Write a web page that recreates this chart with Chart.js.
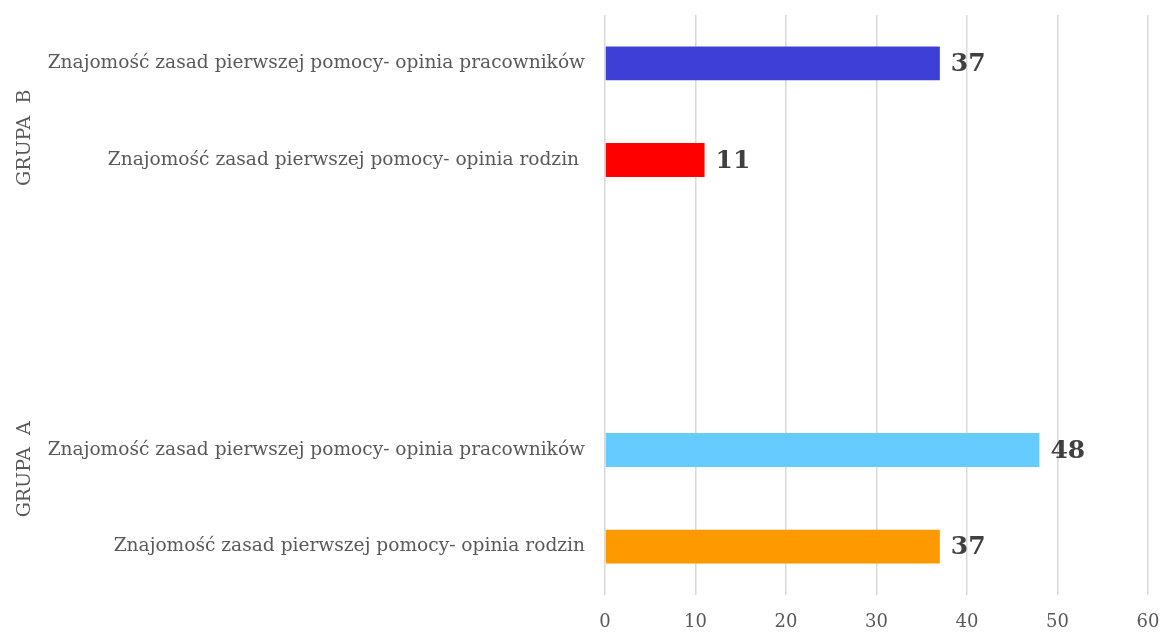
<!DOCTYPE html>
<html>
<head>
<meta charset="utf-8">
<script src="https://cdn.jsdelivr.net/npm/chart.js@4"></script>
<style>
html,body{margin:0;padding:0;background:#fff;}
#wrap{width:1160px;height:632px;position:relative;}
</style>
</head>
<body>
<div id="wrap"><canvas id="c"></canvas></div>
<script>
const categories = [
  'Znajomość zasad pierwszej pomocy- opinia pracowników',
  'Znajomość zasad pierwszej pomocy- opinia rodzin ',
  '',
  '',
  'Znajomość zasad pierwszej pomocy- opinia pracowników',
  'Znajomość zasad pierwszej pomocy- opinia rodzin'
];
const values = [37, 11, null, null, 48, 37];
const barColors = ['#3e3fd7', '#ff0000', '#ffffff', '#ffffff', '#66ccff', '#ff9900'];
const groupNames = ['GRUPA  B', 'GRUPA  A'];
const groupCenters = [0.77, 4.2]; // category index positions
const xTicks = [0, 10, 20, 30, 40, 50, 60];

const serif = '"DejaVu Serif", "Liberation Serif", serif';

const valueLabels = {
  id: 'valueLabels',
  afterDatasetsDraw(chart) {
    const ctx = chart.ctx;
    const meta = chart.getDatasetMeta(0);
    ctx.save();
    ctx.font = 'bold 25px ' + serif;
    ctx.fillStyle = '#404040';
    ctx.textAlign = 'left';
    ctx.textBaseline = 'middle';
    meta.data.forEach((bar, i) => {
      const v = values[i];
      if (v === null || v === undefined) return;
      ctx.fillText(String(v), bar.x + 11, bar.y + 1);
    });
    ctx.restore();
  }
};

const groupLabels = {
  id: 'groupLabels',
  afterDraw(chart) {
    const ctx = chart.ctx;
    const y = chart.scales.y;
    ctx.save();
    ctx.font = '19px ' + serif;
    ctx.fillStyle = '#595959';
    ctx.textAlign = 'center';
    ctx.textBaseline = 'middle';
    groupNames.forEach((g, i) => {
      const py = y.getPixelForValue(groupCenters[i]);
      ctx.save();
      ctx.translate(25, py);
      ctx.rotate(-Math.PI / 2);
      ctx.fillText(g, 0, 0);
      ctx.restore();
    });
    ctx.restore();
  }
};

new Chart(document.getElementById('c'), {
  type: 'bar',
  data: {
    labels: categories,
    datasets: [{
      data: values,
      backgroundColor: barColors,
      borderWidth: 0,
      barPercentage: 0.35,
      categoryPercentage: 1.0
    }]
  },
  options: {
    indexAxis: 'y',
    responsive: true,
    maintainAspectRatio: false,
    animation: false,
    layout: { padding: { top: 15, right: 12, bottom: 0, left: 40 } },
    plugins: {
      legend: { display: false },
      tooltip: { enabled: false }
    },
    scales: {
      x: {
        min: 0,
        max: 60,
        afterBuildTicks(scale) { scale.ticks = xTicks.map(v => ({ value: v })); },
        afterFit(scale) { scale.height = 37; scale.paddingLeft = 0; scale.paddingRight = 0; },
        grid: { color: '#d9d9d9', lineWidth: 1.5, drawTicks: false },
        border: { display: false },
        ticks: {
          color: '#595959',
          font: { family: serif, size: 18 },
          padding: 17
        }
      },
      y: {
        afterFit(scale) { scale.width = 565; scale.paddingTop = 0; scale.paddingBottom = 0; },
        grid: { display: false, drawTicks: false },
        border: { display: false },
        ticks: {
          color: '#595959',
          font: { family: serif, size: 18.6 },
          padding: 20,
          autoSkip: false
        }
      }
    }
  },
  plugins: [valueLabels, groupLabels]
});
</script>
</body>
</html>
